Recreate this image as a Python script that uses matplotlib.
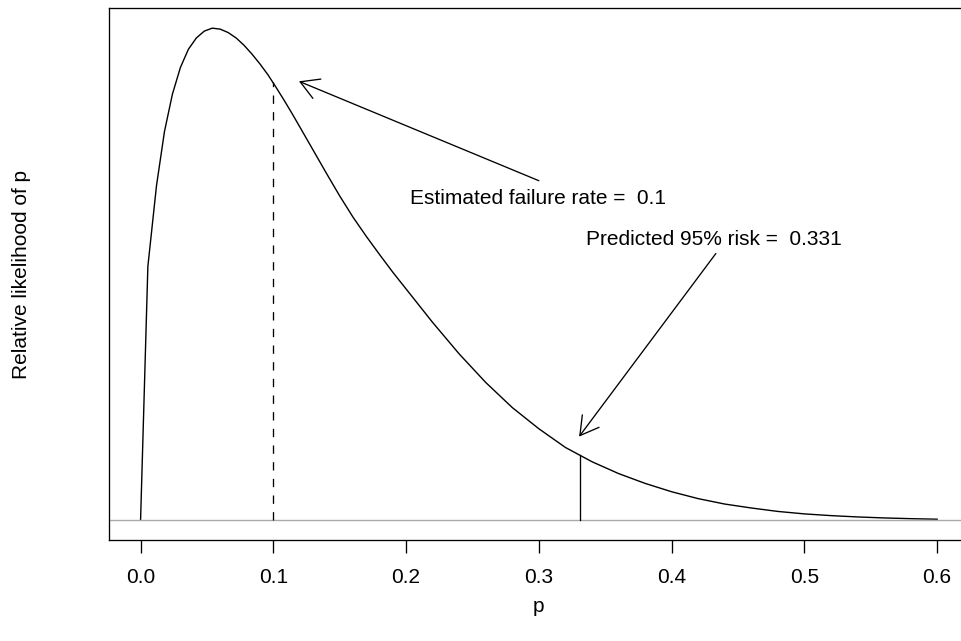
import matplotlib
matplotlib.use("Agg")
import matplotlib.pyplot as plt

plt.rcParams['font.family'] = ['Liberation Sans', 'DejaVu Sans']
plt.rcParams['lines.scale_dashes'] = False

# relative likelihood curve (peak scaled to 1)
p_vals = [0.0, 0.0055, 0.012, 0.018, 0.024, 0.030, 0.036, 0.042, 0.048, 0.054,
          0.060, 0.066, 0.072, 0.078, 0.084, 0.090, 0.096, 0.102, 0.108, 0.114,
          0.120, 0.130, 0.140, 0.150, 0.160, 0.170, 0.180, 0.190, 0.200, 0.220,
          0.240, 0.260, 0.280, 0.300, 0.320, 0.340, 0.360, 0.380, 0.400, 0.420,
          0.440, 0.460, 0.480, 0.500, 0.520, 0.540, 0.560, 0.580, 0.600]
lik_vals = [0.0, 0.516, 0.680, 0.790, 0.866, 0.920, 0.957, 0.980, 0.994, 1.000,
            0.998, 0.991, 0.980, 0.965, 0.947, 0.927, 0.905, 0.880, 0.854, 0.827,
            0.799, 0.752, 0.705, 0.659, 0.616, 0.577, 0.540, 0.504, 0.470, 0.402,
            0.338, 0.280, 0.229, 0.186, 0.148, 0.119, 0.095, 0.075, 0.058, 0.044,
            0.033, 0.025, 0.018, 0.013, 0.0095, 0.0068, 0.0048, 0.0033, 0.0022]

est_rate = 0.1
est_height = 0.890
risk_95 = 0.331
risk_height = 0.132

label_est = "Estimated failure rate =  0.1"
label_risk = "Predicted 95% risk =  0.331"
xticks = [0.0, 0.1, 0.2, 0.3, 0.4, 0.5, 0.6]

fig = plt.figure(figsize=(9.62, 6.41), dpi=100)
ax = fig.add_axes([0.1130, 0.1576, 0.8943, 0.8292])

ax.plot(p_vals, lik_vals, color="black", lw=1.0)
ax.axhline(0, color="#a9a9a9", lw=1.0)

dashed, = ax.plot([est_rate, est_rate], [0, est_height], color="black", lw=0.95)
dashed.set_dashes([6, 6])
ax.plot([risk_95, risk_95], [0, risk_height], color="black", lw=0.95)

arrow_style = dict(arrowstyle="->,head_length=1.3,head_width=0.75", mutation_scale=10,
                   color="black", lw=0.95, shrinkA=0, shrinkB=0)
ax.annotate("", xy=(0.1193, 0.892), xytext=(0.300, 0.690), arrowprops=arrow_style)
ax.annotate("", xy=(0.3303, 0.170), xytext=(0.4333, 0.542), arrowprops=arrow_style)

ax.text(0.2996, 0.654, label_est, ha="center", va="center", fontsize=15)
ax.text(0.432, 0.570, label_risk, ha="center", va="center", fontsize=15)

xr = max(p_vals) - min(p_vals)
yr = max(lik_vals) - min(lik_vals)
ax.set_xlim(min(p_vals) - 0.04 * xr, max(p_vals) + 0.04 * xr)
ax.set_ylim(min(lik_vals) - 0.04 * yr, max(lik_vals) + 0.04 * yr)

ax.set_xticks(xticks)
ax.set_xticklabels(["%.1f" % t for t in xticks], fontsize=15)
ax.tick_params(axis="x", length=9.5, width=0.95, pad=11)
ax.set_yticks([])
for s in ax.spines.values():
    s.set_linewidth(0.95)
ax.spines["right"].set_visible(False)

fig.text(0.1130 + 0.8943 / 2, 1 - 606 / 641, "p", ha="center", va="center", fontsize=15)
fig.text(0.022, 0.1576 + 0.8292 / 2, "Relative likelihood of p", rotation=90,
         ha="center", va="center", fontsize=15)

fig.savefig("out.png", dpi=100)
